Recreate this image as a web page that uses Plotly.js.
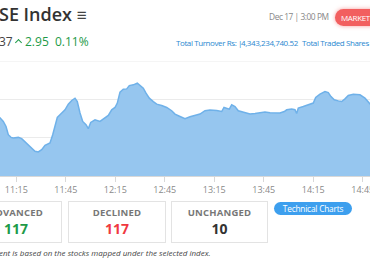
<!DOCTYPE html>
<html><head><meta charset="utf-8">
<script src="https://cdn.plot.ly/plotly-3.0.1.min.js"></script>
<style>
html,body{margin:0;padding:0;width:370px;height:270px;overflow:hidden;background:#fff;font-family:"Open Sans",sans-serif;}
#chart{position:absolute;left:0;top:0;width:370px;height:270px;}
.t{position:absolute;white-space:nowrap;}
.hl{font-size:8px;letter-spacing:-0.4px;color:#2a88d0;top:37px;}
.box{position:absolute;top:201px;height:42px;border:1px solid #e3e3e3;box-sizing:border-box;background:#fff;text-align:center;}
.lbl{font-size:9.5px;font-weight:700;color:#777;margin-top:5px;line-height:11px;letter-spacing:0.2px;}
.num{font-size:14px;font-weight:700;line-height:14px;margin-top:4px;}
.caret{display:inline-block;width:4px;height:4px;border-left:1.6px solid #1e9a48;border-top:1.6px solid #1e9a48;transform:rotate(45deg);position:relative;top:-1px;margin-right:4px;}
</style></head>
<body>
<div id="chart"></div>
<div class="t" style="left:-1px;top:2px;font-size:18px;font-weight:600;color:#333;">SE Index <span style="font-size:17px;color:#444;">&#8801;</span></div>
<div class="t" style="left:-1px;top:33px;font-size:12px;color:#444;">37</div>
<div class="t" style="left:16px;top:33px;font-size:12px;color:#1e9a48;"><span class="caret"></span>2.95&nbsp;&nbsp;0.11%</div>
<div class="t" style="left:269px;top:11px;font-size:8.4px;letter-spacing:-0.45px;color:#888;">Dec 17 | 3:00 PM</div>
<div class="t" style="left:335px;top:9px;height:17px;width:60px;border-radius:9px;background:#f25f5f;box-shadow:0 0 4px rgba(242,95,95,0.6);"></div>
<div class="t" style="left:341px;top:9px;height:17px;color:#fff;font-size:8px;letter-spacing:-0.35px;line-height:17px;">MARKET</div>
<div class="t hl" style="left:176px;">Total Turnover Rs: |</div>
<div class="t hl" style="left:241px;">4,343,234,740.52</div>
<div class="t hl" style="left:302px;">Total Traded Shares |</div>
<div class="box" style="left:-30px;width:92px;"><div class="lbl">ADVANCED</div><div class="num" style="color:#1e9a48;">117</div></div>
<div class="box" style="left:68px;width:98px;"><div class="lbl">DECLINED</div><div class="num" style="color:#f0393f;">117</div></div>
<div class="box" style="left:171px;width:97px;"><div class="lbl">UNCHANGED</div><div class="num" style="color:#333;">10</div></div>
<div class="t" style="left:274px;top:202px;height:13px;width:78px;border-radius:7px;background:#3d9fee;"></div>
<div class="t" style="left:274px;top:202px;height:13px;width:78px;color:#fff;font-size:8.3px;letter-spacing:-0.2px;line-height:13px;text-align:center;">Technical Charts</div>
<div class="t" style="left:-1px;top:247px;font-size:8px;font-style:italic;color:#444;">ent is based on the stocks mapped under the selected index.</div>
<script>
var times = ["11:03:00","11:05:07","11:07:07","11:08:46","11:10:09","11:11:47","11:13:11","11:16:13","11:18:16","11:20:16","11:22:16","11:24:20","11:26:20","11:28:20","11:30:23","11:32:24","11:35:25","11:37:04","11:38:27","11:39:51","11:41:55","11:44:31","11:46:31","11:48:35","11:50:35","11:51:58","11:53:37","11:55:15","11:57:15","11:58:38","12:00:05","12:02:42","12:05:44","12:08:09","12:10:46","12:12:49","12:14:49","12:16:13","12:17:51","12:19:51","12:21:55","12:23:29","12:25:55","12:28:20","12:30:24","12:31:58","12:33:37","12:35:37","12:38:02","12:40:06","12:43:08","12:46:10","12:49:11","12:51:11","12:54:13","12:57:15","13:00:17","13:03:19","13:06:20","13:09:22","13:12:24","13:16:28","13:19:29","13:20:53","13:22:31","13:24:06","13:25:33","13:27:33","13:29:33","13:32:35","13:33:37","13:36:38","13:39:40","13:42:42","13:45:44","13:48:46","13:51:47","13:54:49","13:57:26","13:58:53","14:01:55","14:03:55","14:04:56","14:05:55","14:08:56","14:11:58","14:15:00","14:16:28","14:19:04","14:22:06","14:24:06","14:25:44","14:27:44","14:30:10","14:32:13","14:34:13","14:36:13","14:39:15","14:43:19","14:46:20","14:48:46","14:50:30"];
var values = [2682.3,2682.08,2681.69,2681.17,2680.31,2680.03,2679.97,2680.03,2679.90,2679.55,2679.27,2678.83,2678.58,2678.51,2678.75,2679.20,2679.45,2680.31,2681.35,2682.11,2682.46,2682.91,2683.50,2683.88,2684.12,2683.77,2682.57,2681.69,2681.35,2680.94,2681.59,2681.87,2681.69,2681.97,2682.32,2682.91,2683.15,2683.61,2684.75,2685.06,2685.09,2685.43,2685.51,2685.68,2685.40,2685.16,2684.64,2684.12,2683.77,2683.50,2683.36,2683.15,2682.81,2682.46,2682.21,2681.97,2682.18,2682.32,2682.46,2682.81,2682.88,2682.84,2682.73,2683.15,2683.09,2682.98,2683.43,2683.25,2682.81,2682.67,2682.57,2682.46,2682.52,2682.57,2682.67,2682.60,2682.60,2682.57,2682.73,2682.91,2682.98,2682.91,2682.52,2683.09,2683.25,2683.43,2683.61,2684.19,2684.54,2684.81,2684.71,2684.29,2683.95,2683.84,2683.77,2684.05,2684.40,2684.54,2684.47,2684.12,2683.61,2683.3];
var tickTimes = ["11:15","11:45","12:15","12:45","13:15","13:45","14:15","14:45"];
var day = "2024-12-17 ";
var x = times.map(function(t){return day + t;});
var tv = tickTimes.map(function(t){return day + t + ":00";});
Plotly.newPlot("chart", [{
  x: x, y: values, type: "scatter", mode: "lines", fill: "tozeroy",
  line: {color: "#6fb1e9", width: 1.5, shape: "linear"},
  fillcolor: "rgba(150,198,239,1)", hoverinfo: "none"
}], {
  width: 370, height: 270,
  margin: {l: 0, r: 0, t: 61, b: 93.5, pad: 0},
  paper_bgcolor: "rgba(0,0,0,0)", plot_bgcolor: "rgba(0,0,0,0)",
  showlegend: false,
  shapes: [{type: "line", xref: "paper", x0: 0, x1: 1, yref: "y", y0: 2688, y1: 2688,
    line: {color: "#ebebeb", width: 1}, layer: "below"}],
  xaxis: {type: "date", range: [day + "11:05:07", day + "14:49:23"],
    tickmode: "array", tickvals: tv, ticktext: tickTimes,
    showgrid: false, zeroline: false, showline: true, linecolor: "#d8d8d8", linewidth: 1,
    ticks: "outside", ticklen: 5, tickcolor: "#d8d8d8", ticklabeloverflow: "allow",
    tickfont: {family: "Open Sans, sans-serif", size: 9, color: "#8a8a8a"}},
  yaxis: {range: [2676, 2688], tickmode: "linear", tick0: 2676, dtick: 4,
    showticklabels: false, showgrid: true, gridcolor: "#ebebeb", gridwidth: 1,
    zeroline: false, showline: false}
}, {staticPlot: true, displayModeBar: false});
</script>
</body></html>
